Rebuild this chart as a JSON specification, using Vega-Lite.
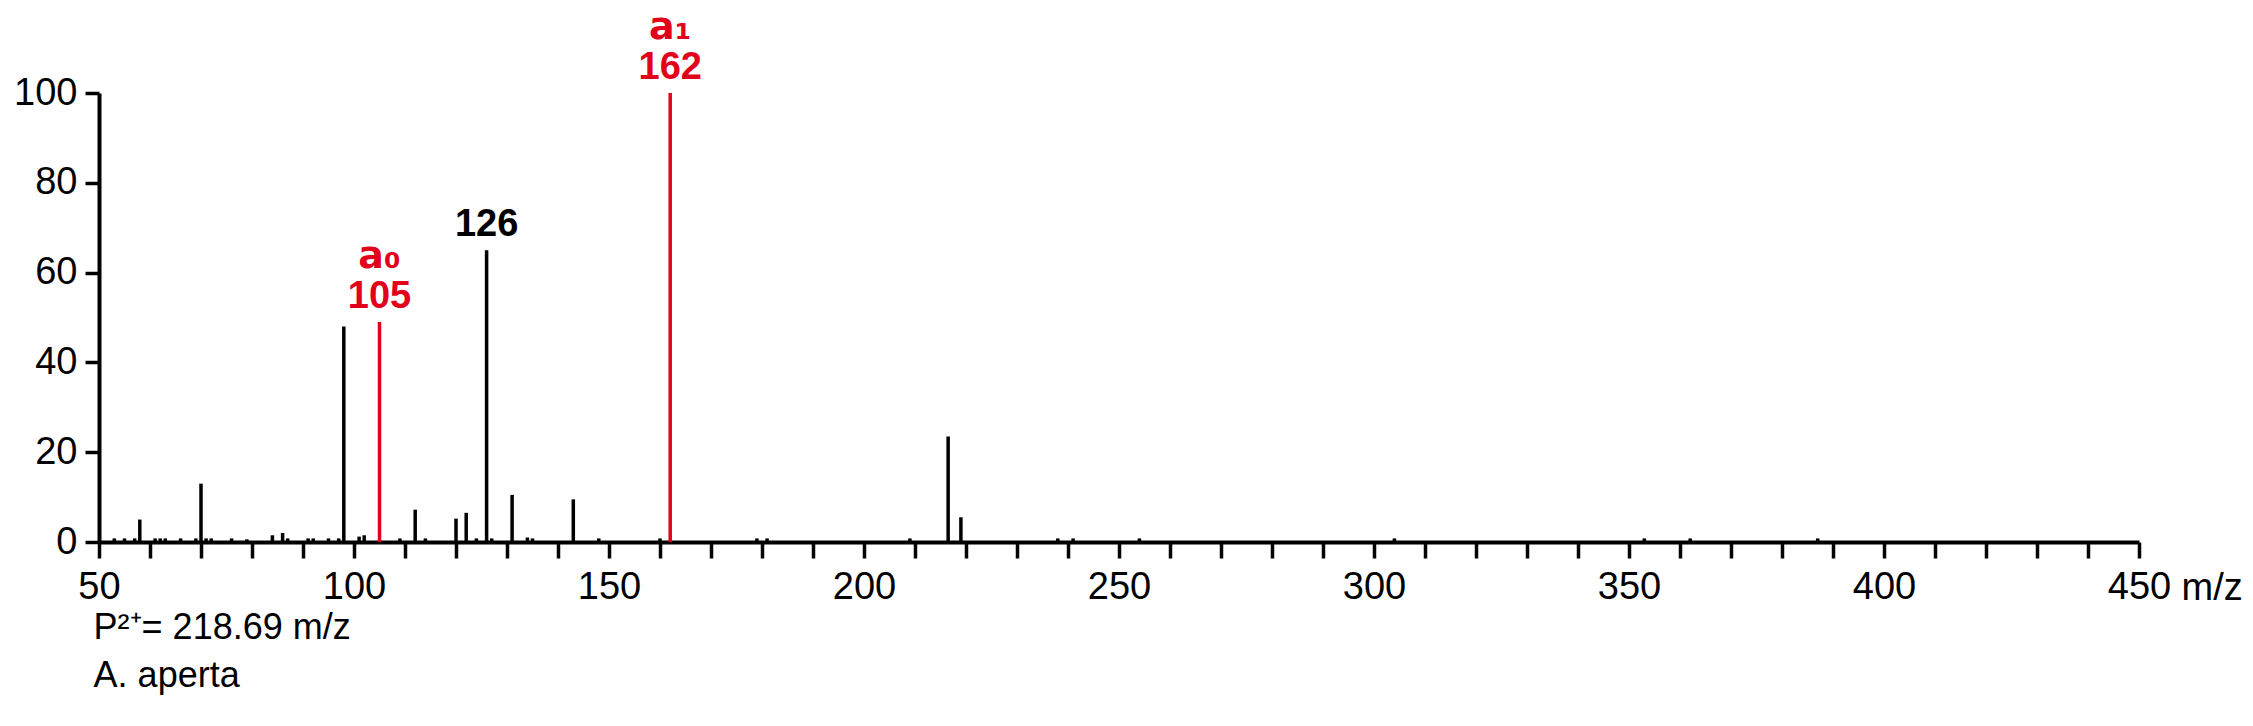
{
  "$schema": "https://vega.github.io/schema/vega-lite/v6.json",
  "width": 2040,
  "height": 449,
  "autosize": "none",
  "padding": {"left": 99, "top": 93, "right": 114, "bottom": 184},
  "background": "white",
  "config": {"font": "Liberation Sans", "view": {"stroke": null}},
  "title": {
    "text": ["P²⁺= 218.69 m/z", "A. aperta"],
    "orient": "bottom",
    "anchor": "start",
    "dx": 80,
    "offset": 4,
    "fontSize": 36,
    "fontWeight": "normal",
    "lineHeight": 48,
    "font": "Liberation Sans"
  },
  "datasets": {
    "peaks": [
      {"mz": 53, "i": 0.8, "ion": "other"}, {"mz": 55, "i": 0.8, "ion": "other"},
      {"mz": 57, "i": 0.8, "ion": "other"}, {"mz": 58, "i": 5, "ion": "other"},
      {"mz": 61, "i": 0.8, "ion": "other"}, {"mz": 62, "i": 0.8, "ion": "other"},
      {"mz": 63, "i": 0.8, "ion": "other"}, {"mz": 66, "i": 0.8, "ion": "other"},
      {"mz": 69, "i": 0.8, "ion": "other"}, {"mz": 70, "i": 13, "ion": "other"},
      {"mz": 71, "i": 0.8, "ion": "other"}, {"mz": 72, "i": 0.8, "ion": "other"},
      {"mz": 76, "i": 0.8, "ion": "other"}, {"mz": 79, "i": 0.6, "ion": "other"},
      {"mz": 84, "i": 1.5, "ion": "other"}, {"mz": 86, "i": 2, "ion": "other"},
      {"mz": 87, "i": 0.8, "ion": "other"}, {"mz": 91, "i": 0.8, "ion": "other"},
      {"mz": 92, "i": 0.8, "ion": "other"}, {"mz": 95, "i": 0.8, "ion": "other"},
      {"mz": 97, "i": 0.8, "ion": "other"}, {"mz": 98, "i": 48, "ion": "other"},
      {"mz": 101, "i": 1.2, "ion": "other"}, {"mz": 102, "i": 1.5, "ion": "other"},
      {"mz": 105, "i": 49, "ion": "a"},
      {"mz": 109, "i": 0.8, "ion": "other"}, {"mz": 112, "i": 7.2, "ion": "other"},
      {"mz": 114, "i": 0.8, "ion": "other"}, {"mz": 120, "i": 5.2, "ion": "other"},
      {"mz": 122, "i": 6.5, "ion": "other"}, {"mz": 124, "i": 0.8, "ion": "other"},
      {"mz": 126, "i": 65, "ion": "other"}, {"mz": 127, "i": 0.8, "ion": "other"},
      {"mz": 131, "i": 10.5, "ion": "other"}, {"mz": 134, "i": 1, "ion": "other"},
      {"mz": 135, "i": 0.8, "ion": "other"}, {"mz": 143, "i": 9.5, "ion": "other"},
      {"mz": 148, "i": 0.8, "ion": "other"}, {"mz": 160, "i": 0.8, "ion": "other"},
      {"mz": 162, "i": 100, "ion": "a"},
      {"mz": 179, "i": 0.8, "ion": "other"}, {"mz": 181, "i": 0.8, "ion": "other"},
      {"mz": 209, "i": 0.8, "ion": "other"}, {"mz": 216.5, "i": 23.5, "ion": "other"},
      {"mz": 219, "i": 5.5, "ion": "other"}, {"mz": 238, "i": 0.8, "ion": "other"},
      {"mz": 241, "i": 0.8, "ion": "other"}, {"mz": 254, "i": 0.8, "ion": "other"},
      {"mz": 304, "i": 0.8, "ion": "other"}, {"mz": 353, "i": 0.8, "ion": "other"},
      {"mz": 362, "i": 0.8, "ion": "other"}, {"mz": 387, "i": 0.8, "ion": "other"}
    ],
    "labels": [
      {"mz": 126, "i": 65, "num": "126", "name": "", "ion": "other"},
      {"mz": 105, "i": 49, "num": "105", "name": "a₀", "ion": "a"},
      {"mz": 162, "i": 100, "num": "162", "name": "a₁", "ion": "a"}
    ]
  },
  "encoding": {
    "x": {
      "field": "mz", "type": "quantitative",
      "scale": {"domain": [50, 450], "nice": false}
    },
    "y": {
      "field": "i", "type": "quantitative",
      "scale": {"domain": [0, 100], "nice": false}
    }
  },
  "layer": [
    {
      "data": {"name": "peaks"},
      "mark": {"type": "rule", "strokeWidth": 3.5},
      "encoding": {
        "x": {
          "field": "mz", "type": "quantitative",
          "scale": {"domain": [50, 450], "nice": false},
          "axis": {
            "values": [50, 60, 70, 80, 90, 100, 110, 120, 130, 140, 150, 160, 170, 180, 190, 200, 210, 220, 230, 240, 250, 260, 270, 280, 290, 300, 310, 320, 330, 340, 350, 360, 370, 380, 390, 400, 410, 420, 430, 440, 450],
            "labelExpr": "datum.value % 50 === 0 ? datum.label : ''",
            "grid": false, "tickSize": 16, "tickWidth": 3.5, "tickColor": "black",
            "domainColor": "black", "domainWidth": 4, "labelColor": "black",
            "labelFontSize": 38, "labelPadding": 10, "labelFlush": false,
            "title": "m/z", "titleFontSize": 38, "titleFontWeight": "normal",
            "titleX": 2082, "titleY": 57, "titleAlign": "left", "titleBaseline": "alphabetic"
          }
        },
        "y": {
          "field": "i", "type": "quantitative",
          "scale": {"domain": [0, 100], "nice": false},
          "axis": {
            "values": [0, 20, 40, 60, 80, 100],
            "grid": false, "tickSize": 14, "tickWidth": 3.5, "tickColor": "black",
            "domainColor": "black", "domainWidth": 4, "labelColor": "black",
            "labelFontSize": 38, "labelPadding": 8, "title": null
          }
        },
        "y2": {"datum": 0},
        "color": {
          "field": "ion", "type": "nominal",
          "scale": {"domain": ["a", "other"], "range": ["#e3001b", "black"]},
          "legend": null
        }
      }
    },
    {
      "data": {"name": "labels"},
      "mark": {"type": "text", "fontSize": 38, "fontWeight": "bold", "baseline": "bottom", "dy": -6},
      "encoding": {
        "text": {"field": "num"},
        "color": {"field": "ion", "type": "nominal", "scale": {"domain": ["a", "other"], "range": ["#e3001b", "black"]}, "legend": null}
      }
    },
    {
      "data": {"name": "labels"},
      "mark": {"type": "text", "fontSize": 38, "fontWeight": "bold", "baseline": "bottom", "dy": -46, "font": "DejaVu Sans"},
      "encoding": {
        "text": {"field": "name"},
        "color": {"field": "ion", "type": "nominal", "scale": {"domain": ["a", "other"], "range": ["#e3001b", "black"]}, "legend": null}
      }
    }
  ]
}
